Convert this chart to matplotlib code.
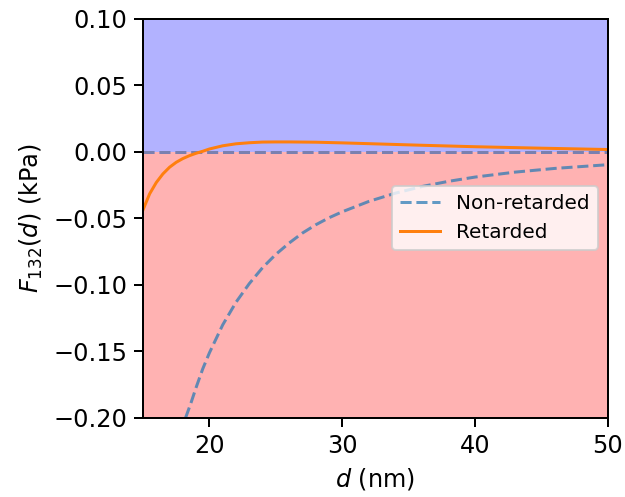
import matplotlib
matplotlib.use("Agg")
import matplotlib.pyplot as plt

# distances (nm) and pressures (kPa)
d_nonret = [18.2, 18.6, 19, 19.5, 20, 21, 22, 23, 24, 25, 26, 27, 28, 29,
            30, 32, 34, 36, 38, 40, 43, 46, 50]
F_nonret = [-0.200, -0.189, -0.177, -0.163, -0.151, -0.130, -0.113, -0.099,
            -0.087, -0.077, -0.0685, -0.061, -0.0548, -0.0495, -0.045,
            -0.0372, -0.0310, -0.0260, -0.0221, -0.0189, -0.0152, -0.0124,
            -0.0096]

d_ret = [15, 15.5, 16, 16.5, 17, 17.5, 18, 18.5, 19, 19.5, 20, 21, 22, 23,
         24, 25, 26, 28, 30, 33, 36, 40, 45, 50]
F_ret = [-0.0436, -0.0315, -0.023, -0.0165, -0.0115, -0.0078, -0.0050,
         -0.0028, -0.0010, 0.0005, 0.0022, 0.0046, 0.0061, 0.0069, 0.0074,
         0.0075, 0.0075, 0.0073, 0.0068, 0.0059, 0.0050, 0.0039, 0.0028,
         0.0018]

xlim = (15, 50)
ylim = (-0.20, 0.10)

plt.rcParams["font.size"] = 12

fig = plt.figure(figsize=(625 / 144, 497 / 144), dpi=144)
ax = fig.add_axes([0.2288, 0.159, 0.744, 0.803])

ax.axhspan(0, ylim[1], color="blue", alpha=0.3, lw=0)
ax.axhspan(ylim[0], 0, color="red", alpha=0.3, lw=0)
ax.axhline(0, color="#7a80b0", ls="--", lw=1.5)

ax.plot(d_nonret, F_nonret, ls="--", color="C0", alpha=0.7, label="Non-retarded")
ax.plot(d_ret, F_ret, color="C1", label="Retarded")

ax.set_xlim(*xlim)
ax.set_ylim(*ylim)
ax.set_xticks([20, 30, 40, 50])
ax.set_yticks([-0.20, -0.15, -0.10, -0.05, 0.00, 0.05, 0.10])
ax.tick_params(length=4.5, width=1.0)
for sp in ax.spines.values():
    sp.set_linewidth(1.0)
ax.set_xlabel(r"$d$ (nm)")
ax.set_ylabel(r"$F_{132}(d)$ (kPa)")
ax.legend(loc="center right", fontsize=10)

fig.savefig("out.png", dpi=144)
